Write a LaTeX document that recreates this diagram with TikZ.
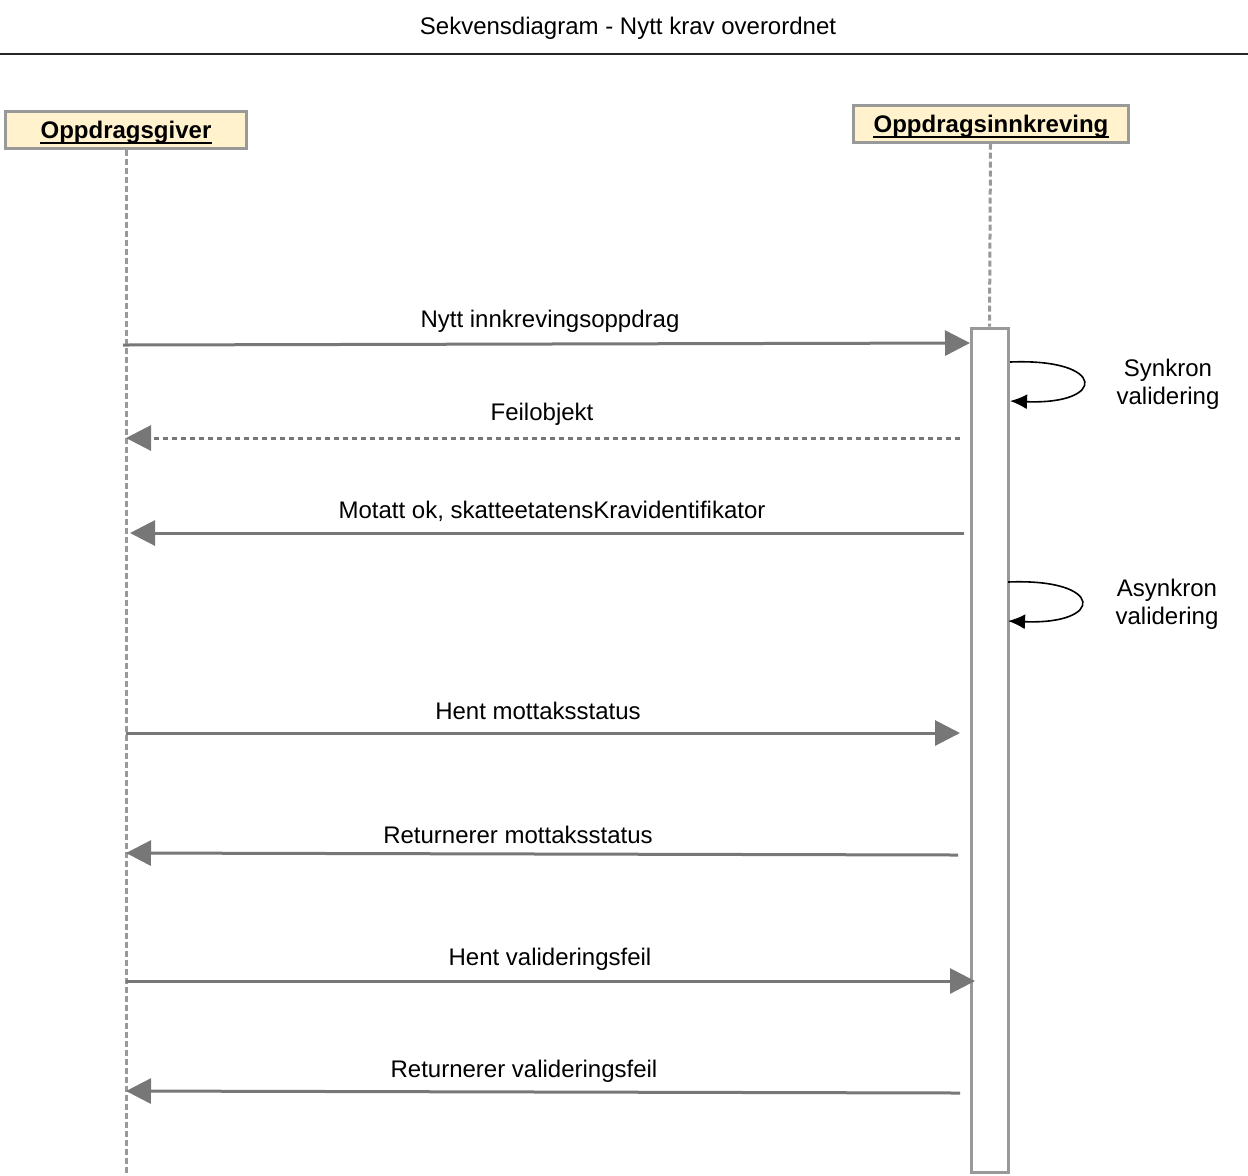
\documentclass[tikz,border=0pt]{standalone}
\usepackage{fontspec}
\setmainfont{Liberation Sans}
\usetikzlibrary{arrows.meta}
\definecolor{boxfill}{HTML}{FFF2CC}
\definecolor{boxline}{HTML}{999999}
\definecolor{msgcol}{HTML}{777777}
\begin{document}
\begin{tikzpicture}[x=0.5pt,y=-0.5pt,
  actor/.style={draw=boxline, line width=1.5pt, fill=boxfill, inner sep=0pt},
  actorlabel/.style={font=\bfseries\fontsize{12}{14}\selectfont, inner sep=0pt},
  ul/.style={draw=black, line width=0.9pt},
  lifeline/.style={draw=boxline, line width=1.5pt, dash pattern=on 3pt off 1.5pt},
  msg/.style={draw=msgcol, line width=1.5pt, -{Triangle[length=12.5pt,width=12.5pt]}},
  msglabel/.style={font=\fontsize{12}{14}\selectfont, inner sep=0pt},
  selfloop/.style={draw=black, line width=0.8pt, -{Latex[length=8.5pt,width=7.5pt]}},
  note/.style={font=\fontsize{12}{14}\selectfont, align=center, inner sep=0pt}]
\useasboundingbox (0,0) rectangle (1248,1175);
% title
\node[msglabel] (title) at (628,28) {Sekvensdiagram - Nytt krav overordnet};
\coordinate (hl) at (0,54);
\coordinate (hr) at (1248,54);
\draw[line width=0.7pt, black!85] (hl) -- (hr);
% actors
\node[actor, minimum width=120.5pt, minimum height=18.5pt] (giver) at (125.5,129.5) {};
\node[actorlabel] (giverT) at (126,132) {Oppdragsgiver};
\draw[ul] ([yshift=-2.6pt]giverT.base west) -- ([yshift=-2.6pt]giverT.base east);
\node[actor, minimum width=137.5pt, minimum height=18.5pt] (innkr) at (990.5,123.5) {};
\node[actorlabel] (innkrT) at (991,126) {Oppdragsinnkreving};
\draw[ul] ([yshift=-2.6pt]innkrT.base west) -- ([yshift=-2.6pt]innkrT.base east);
% lifelines
\coordinate (gend) at (126,1175);
\draw[lifeline] (giver.south) ++(0.5,0) -- (gend);
% activation
\node[draw=boxline, line width=1.5pt, fill=white, minimum width=18.5pt, minimum height=422pt, inner sep=0pt] (act) at (989.5,750) {};
\draw[lifeline] (innkr.south) -- (act.north);
% message coordinates
\coordinate (m1s) at (123,345); \coordinate (m1e) at (970,343);
\coordinate (m2s) at (960,438); \coordinate (m2e) at (126,438);
\coordinate (m3s) at (964,533); \coordinate (m3e) at (130,533);
\coordinate (m4s) at (126,733); \coordinate (m4e) at (960,733);
\coordinate (m5s) at (958,855); \coordinate (m5e) at (126,853);
\coordinate (m6s) at (126,981); \coordinate (m6e) at (975,981);
\coordinate (m7s) at (960,1093); \coordinate (m7e) at (126,1091);
\draw[msg] (m1s) -- (m1e);
\draw[msg, dash pattern=on 2.5pt off 2pt] (m2s) -- (m2e);
\draw[msg] (m3s) -- (m3e);
\draw[msg] (m4s) -- (m4e);
\draw[msg] (m5s) -- (m5e);
\draw[msg] (m6s) -- (m6e);
\draw[msg] (m7s) -- (m7e);
% labels
\node[msglabel] (l1) at (550,321) {Nytt innkrevingsoppdrag};
\node[msglabel] (l2) at (542,414) {Feilobjekt};
\node[msglabel] (l3) at (552,511) {Motatt ok, skatteetatensKravidentifikator};
\node[msglabel] (l4) at (538,711) {Hent mottaksstatus};
\node[msglabel] (l5) at (518,835) {Returnerer mottaksstatus};
\node[msglabel] (l6) at (550,959) {Hent valideringsfeil};
\node[msglabel] (l7) at (524,1071) {Returnerer valideringsfeil};
% self loops
\coordinate (s1a) at (1010,362); \coordinate (s1b) at (1010,401);
\draw[selfloop] (s1a) .. controls (1107,358) and (1107,405) .. (s1b);
\node[note] (n1) at (1168,384) {Synkron\\validering};
\coordinate (s2a) at (1008,582); \coordinate (s2b) at (1008,621);
\draw[selfloop] (s2a) .. controls (1105,578) and (1105,625) .. (s2b);
\node[note] (n2) at (1167,604) {Asynkron\\validering};
\end{tikzpicture}
\end{document}
